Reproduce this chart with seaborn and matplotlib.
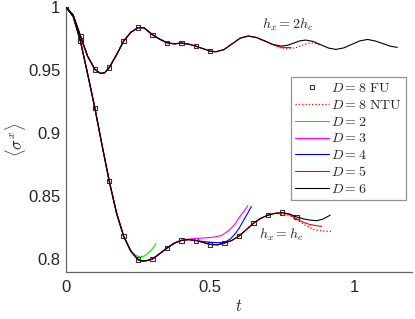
import matplotlib
matplotlib.use("Agg")
import matplotlib.pyplot as plt
from matplotlib.lines import Line2D
import seaborn as sns

# ---- data ----
# h_x = 2 h_c (upper branch), D = 6 reference curve
t_hi = [0.0, 0.025, 0.05, 0.075, 0.1, 0.12, 0.135, 0.15, 0.175, 0.2, 0.225, 0.25, 0.27,
        0.3, 0.325, 0.35, 0.375, 0.4, 0.425, 0.45, 0.475, 0.5, 0.52, 0.548, 0.576,
        0.604, 0.632, 0.661, 0.69, 0.719, 0.748, 0.769, 0.79, 0.81, 0.831, 0.857,
        0.884, 0.91, 0.936, 0.9635, 0.991, 1.0185, 1.046, 1.072, 1.098, 1.124, 1.149]
y_hi = [1.0, 0.9935, 0.977, 0.961, 0.9506, 0.9473, 0.948, 0.952, 0.962, 0.973, 0.980,
        0.9836, 0.9836, 0.978, 0.9745, 0.9717, 0.9708, 0.9714, 0.9706, 0.969, 0.967,
        0.965, 0.9645, 0.9663, 0.9708, 0.9753, 0.977, 0.9758, 0.973, 0.9702, 0.969,
        0.9697, 0.9714, 0.9731, 0.9738, 0.9727, 0.9701, 0.9675, 0.9664, 0.9676,
        0.97035, 0.9731, 0.9743, 0.9731, 0.9711, 0.969, 0.968]
# deviating tails on the upper branch
ntu_hi_t = [0.719, 0.745, 0.77, 0.8, 0.83, 0.848, 0.865, 0.884]
ntu_hi_y = [0.9700, 0.9675, 0.9668, 0.968, 0.9705, 0.9717, 0.971, 0.970]
d5_hi_t = [0.719, 0.745, 0.765, 0.78]
d5_hi_y = [0.9701, 0.9682, 0.9678, 0.968]

# h_x = h_c (lower branch), D = 6 reference curve
t_lo = [0.0, 0.025, 0.05, 0.075, 0.1, 0.125, 0.15, 0.175, 0.2, 0.225, 0.25, 0.265, 0.28,
        0.3, 0.325, 0.35, 0.375, 0.4, 0.425, 0.45, 0.475, 0.5, 0.525, 0.55, 0.575, 0.6,
        0.625, 0.65, 0.675, 0.7, 0.725, 0.75, 0.775, 0.8, 0.825, 0.85, 0.87, 0.89, 0.916]
y_lo = [1.0, 0.9925, 0.973, 0.947, 0.920, 0.8905, 0.862, 0.837, 0.8183, 0.8065, 0.7998,
        0.7987, 0.7990, 0.8003, 0.8045, 0.809, 0.8128, 0.815, 0.8157, 0.815, 0.8135,
        0.8119, 0.8115, 0.813, 0.815, 0.8185, 0.8235, 0.8286, 0.8325, 0.835, 0.8365,
        0.837, 0.836, 0.8336, 0.832, 0.831, 0.8307, 0.8318, 0.835]
# deviating tails on the lower branch
d2_lo_t = [0.22, 0.24, 0.255, 0.27, 0.285, 0.3, 0.312]
d2_lo_y = [0.808, 0.8035, 0.802, 0.8025, 0.805, 0.8085, 0.8125]
d3_lo_t = [0.39, 0.42, 0.45, 0.48, 0.51, 0.54, 0.565, 0.585, 0.6, 0.615, 0.631]
d3_lo_y = [0.8145, 0.816, 0.8165, 0.817, 0.8175, 0.819, 0.823, 0.8275, 0.833, 0.8375, 0.8425]
d4_lo_t = [0.48, 0.505, 0.53, 0.552, 0.57, 0.587, 0.6, 0.616, 0.63, 0.643]
d4_lo_y = [0.814, 0.8135, 0.8132, 0.8137, 0.8162, 0.8204, 0.8245, 0.831, 0.8365, 0.842]
d5_lo_t = [0.775, 0.79, 0.808, 0.825, 0.843, 0.865, 0.887]
d5_lo_y = [0.8355, 0.8335, 0.831, 0.8293, 0.8278, 0.8268, 0.8262]
ntu_lo_t = [0.773, 0.8, 0.83, 0.86, 0.89, 0.919]
ntu_lo_y = [0.835, 0.8315, 0.827, 0.8236, 0.8225, 0.8222]

# D = 8 full-update markers
fu_hi_t = [0.0, 0.05, 0.1, 0.15, 0.2, 0.25, 0.3, 0.35, 0.4, 0.45, 0.5]
fu_hi_y = [1.0, 0.977, 0.9506, 0.952, 0.973, 0.9836, 0.978, 0.9717, 0.9714, 0.969, 0.965]
fu_lo_t = [0.0, 0.05, 0.1, 0.15, 0.2, 0.25, 0.3, 0.35, 0.4, 0.45, 0.5, 0.55, 0.6,
           0.65, 0.7, 0.75, 0.8]
fu_lo_y = [1.0, 0.973, 0.920, 0.862, 0.8183, 0.7998, 0.8003, 0.809, 0.815, 0.815,
           0.8119, 0.813, 0.8185, 0.8286, 0.835, 0.837, 0.8336]

# where each bond dimension follows the reference curve (index into t_hi / t_lo)
d2_hi_end, d3_hi_end, d4_hi_end, ntu_hi_end = 9, 16, 19, 29
d2_lo_end, d3_lo_end, d4_lo_end, d5_lo_end, ntu_lo_end = 9, 16, 20, 32, 31

COL = {"NTU": "#ff0000", "D2": "#00ee00", "D3": "#ff00ff", "D4": "#0000ff",
       "D5": "#ff0000", "D6": "#000000"}

sns.set_theme(style="white")
plt.rcParams.update({
    "font.family": ["Liberation Sans", "DejaVu Sans"],
    "mathtext.fontset": "cm",
    "axes.edgecolor": "#666666",
    "xtick.color": "#666666",
    "ytick.color": "#666666",
    "xtick.labelcolor": "#262626",
    "ytick.labelcolor": "#262626",
    "xtick.direction": "in",
    "ytick.direction": "in",
})

fig = plt.figure(figsize=(4.15, 3.19), dpi=100)
ax = fig.add_axes([66 / 415, 1 - 272 / 319, 346 / 415, 265 / 319])

# markers first, lines on top
sns.scatterplot(x=fu_hi_t, y=fu_hi_y, marker="s", s=10, facecolor="none",
                edgecolor="#333333", linewidth=0.8, ax=ax, legend=False, zorder=2)
sns.scatterplot(x=fu_lo_t, y=fu_lo_y, marker="s", s=10, facecolor="none",
                edgecolor="#333333", linewidth=0.8, ax=ax, legend=False, zorder=2)


def line(x, y, color, ls="-", lw=0.8, z=3):
    sns.lineplot(x=x, y=y, color=color, linestyle=ls, linewidth=lw, ax=ax,
                 sort=False, estimator=None, legend=False, zorder=z)


# NTU (dotted red)
line(t_hi[:ntu_hi_end] + ntu_hi_t, y_hi[:ntu_hi_end] + ntu_hi_y, COL["NTU"], ls=":", lw=0.9)
line(t_lo[:ntu_lo_end] + ntu_lo_t, y_lo[:ntu_lo_end] + ntu_lo_y, COL["NTU"], ls=":", lw=0.9)
# D = 2
line(t_hi[:d2_hi_end], y_hi[:d2_hi_end], COL["D2"])
line(t_lo[:d2_lo_end] + d2_lo_t, y_lo[:d2_lo_end] + d2_lo_y, COL["D2"])
# D = 3
line(t_hi[:d3_hi_end], y_hi[:d3_hi_end], COL["D3"])
line(t_lo[:d3_lo_end] + d3_lo_t, y_lo[:d3_lo_end] + d3_lo_y, COL["D3"])
# D = 4
line(t_hi[:d4_hi_end], y_hi[:d4_hi_end], COL["D4"])
line(t_lo[:d4_lo_end] + d4_lo_t, y_lo[:d4_lo_end] + d4_lo_y, COL["D4"])
# D = 5
line(t_hi[:ntu_hi_end] + d5_hi_t, y_hi[:ntu_hi_end] + d5_hi_y, COL["D5"])
line(t_lo[:d5_lo_end] + d5_lo_t, y_lo[:d5_lo_end] + d5_lo_y, COL["D5"])
# D = 6
line(t_hi, y_hi, COL["D6"], z=4)
line(t_lo, y_lo, COL["D6"], z=4)

ax.set_xlim(0, 1.2)
ax.set_ylim(0.79, 1.0)
ax.set_xticks([0, 0.5, 1])
ax.set_xticklabels(["0", "0.5", "1"])
ax.set_yticks([0.8, 0.85, 0.9, 0.95, 1.0])
ax.set_yticklabels(["0.8", "0.85", "0.9", "0.95", "1"])
ax.tick_params(axis="both", labelsize=12, length=3, width=0.8)
ax.tick_params(axis="x", pad=6)
ax.tick_params(axis="y", pad=4)
sns.despine(ax=ax)
for sp in ("left", "bottom"):
    ax.spines[sp].set_linewidth(0.9)

ax.set_xlabel(r"$t$", fontsize=12, labelpad=2)
ax.set_ylabel(r"$\langle\sigma^x\rangle$", fontsize=12, labelpad=0)

ax.text(0.767, 0.9857, r"$h_x = 2h_c$", fontsize=10, ha="center", va="center")
ax.text(0.745, 0.8195, r"$h_x = h_c$", fontsize=10, ha="center", va="center")

handles = [
    Line2D([], [], marker="s", ls="none", markersize=3.2, markerfacecolor="none",
           markeredgecolor="#333333", markeredgewidth=0.8),
    Line2D([], [], color=COL["NTU"], ls=":", lw=0.9),
    Line2D([], [], color=COL["D2"], lw=0.8),
    Line2D([], [], color=COL["D3"], lw=0.8),
    Line2D([], [], color=COL["D4"], lw=0.8),
    Line2D([], [], color=COL["D5"], lw=0.8),
    Line2D([], [], color=COL["D6"], lw=0.8),
]
labels = [r"$D = 8\ \mathrm{FU}$", r"$D = 8\ \mathrm{NTU}$", r"$D = 2$", r"$D = 3$",
          r"$D = 4$", r"$D = 5$", r"$D = 6$"]
leg = ax.legend(handles, labels, loc="upper right", bbox_to_anchor=(0.983, 0.736),
                borderaxespad=0, fontsize=10, frameon=True, fancybox=False,
                handlelength=2.4, handletextpad=0.2, labelspacing=0.2,
                borderpad=0.3, edgecolor="#777777")
leg.get_frame().set_linewidth(0.9)

fig.savefig("out.png", dpi=100)
